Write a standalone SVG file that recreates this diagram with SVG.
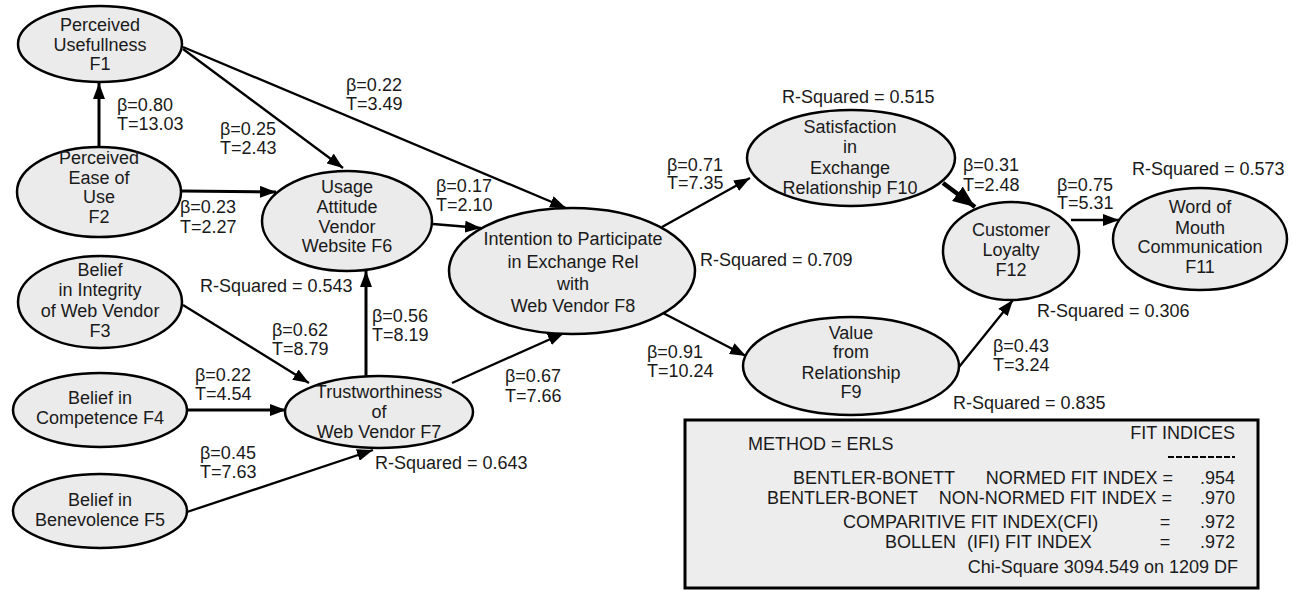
<svg xmlns="http://www.w3.org/2000/svg" width="1293" height="590" viewBox="0 0 1293 590">
<style>
.n ellipse{fill:#ebebeb;stroke:#000;stroke-width:2.5}
text{font-family:"Liberation Sans",Arial,sans-serif;font-size:18px;fill:#1a1a1a}
.n text{text-anchor:middle}
.e line{stroke:#000;stroke-width:2.3;fill:none;marker-end:url(#ah)}
.e line.k{stroke-width:3}
.e line.b{stroke-width:4.5;marker-end:url(#ahb)}
.end{text-anchor:end}
.mid{text-anchor:middle}
</style>
<defs>
<marker id="ah" markerUnits="userSpaceOnUse" markerWidth="16" markerHeight="12" refX="16" refY="6" orient="auto">
<path d="M0,0 L16,6 L0,12 z" fill="#000"/>
</marker>
<marker id="ahb" markerUnits="userSpaceOnUse" markerWidth="22" markerHeight="18" refX="22" refY="9" orient="auto">
<path d="M0,0 L22,9 L0,18 z" fill="#000"/>
</marker>
</defs>
<rect width="1293" height="590" fill="#fff"/>

<g id="connectors" class="e">
<line class="k" x1="99" y1="147" x2="99" y2="83"/>
<line x1="183" y1="49" x2="343" y2="168"/>
<line x1="183" y1="47" x2="566" y2="208"/>
<line class="k" x1="182" y1="191" x2="276" y2="192"/>
<line x1="433" y1="224" x2="481" y2="228"/>
<line x1="183" y1="305" x2="309" y2="383"/>
<line class="k" x1="187" y1="410" x2="286" y2="410"/>
<line x1="187" y1="512" x2="373" y2="450"/>
<line class="k" x1="366" y1="377" x2="366" y2="271"/>
<line x1="452" y1="383" x2="564" y2="333"/>
<line x1="662" y1="227" x2="750" y2="178"/>
<line x1="663" y1="313" x2="746" y2="356"/>
<line class="b" x1="943" y1="183" x2="975" y2="207"/>
<line x1="1071" y1="220" x2="1119" y2="220"/>
<line x1="959" y1="367" x2="1013" y2="300"/>
</g>

<g id="F1" class="n"><ellipse cx="100" cy="44" rx="82" ry="38"/>
<text x="100" y="31">Perceived</text><text x="100" y="51">Usefullness</text><text x="100" y="70">F1</text></g>
<g id="F2" class="n"><ellipse cx="99" cy="192" rx="82" ry="45"/>
<text x="99" y="164">Perceived</text><text x="99" y="184">Ease of</text><text x="99" y="203">Use</text><text x="99" y="223">F2</text></g>
<g id="F3" class="n"><ellipse cx="100" cy="302" rx="82" ry="46"/>
<text x="100" y="276">Belief</text><text x="100" y="296">in Integrity</text><text x="100" y="317">of Web Vendor</text><text x="100" y="337">F3</text></g>
<g id="F4" class="n"><ellipse cx="100" cy="410" rx="87" ry="37"/>
<text x="100" y="404">Belief in</text><text x="100" y="424">Competence F4</text></g>
<g id="F5" class="n"><ellipse cx="100" cy="511" rx="87" ry="37"/>
<text x="100" y="506">Belief in</text><text x="100" y="526">Benevolence F5</text></g>
<g id="F6" class="n"><ellipse cx="347" cy="221" rx="85" ry="50"/>
<text x="347" y="193">Usage</text><text x="347" y="213">Attitude</text><text x="347" y="233">Vendor</text><text x="347" y="252">Website F6</text></g>
<g id="F7" class="n"><ellipse cx="379" cy="412" rx="94" ry="36"/>
<text x="379" y="398">Trustworthiness</text><text x="379" y="418">of</text><text x="379" y="438">Web Vendor F7</text></g>
<g id="F8" class="n"><ellipse cx="572" cy="271" rx="123" ry="63"/>
<text x="573" y="245">Intention to Participate</text><text x="573" y="268">in Exchange Rel</text><text x="573" y="290">with</text><text x="573" y="312">Web Vendor F8</text></g>
<g id="F10" class="n"><ellipse cx="851" cy="158" rx="104" ry="48"/>
<text x="850" y="133">Satisfaction</text><text x="850" y="153">in</text><text x="850" y="174">Exchange</text><text x="850" y="194">Relationship F10</text></g>
<g id="F9" class="n"><ellipse cx="851" cy="366" rx="108" ry="49"/>
<text x="851" y="339">Value</text><text x="851" y="358">from</text><text x="851" y="379">Relationship</text><text x="851" y="398">F9</text></g>
<g id="F12" class="n"><ellipse cx="1011" cy="251" rx="68" ry="49"/>
<text x="1011" y="236">Customer</text><text x="1011" y="256">Loyalty</text><text x="1011" y="276">F12</text></g>
<g id="F11" class="n"><ellipse cx="1200" cy="239" rx="87" ry="51"/>
<text x="1200" y="213">Word of</text><text x="1200" y="234">Mouth</text><text x="1200" y="253">Communication</text><text x="1200" y="273">F11</text></g>

<g id="labels">
<text x="117" y="111">β=0.80</text><text x="117" y="130">T=13.03</text>
<text x="220" y="135">β=0.25</text><text x="220" y="154">T=2.43</text>
<text x="346" y="91">β=0.22</text><text x="346" y="110">T=3.49</text>
<text x="180" y="213">β=0.23</text><text x="180" y="233">T=2.27</text>
<text x="436" y="192">β=0.17</text><text x="436" y="211">T=2.10</text>
<text x="200" y="292">R-Squared = 0.543</text>
<text x="272" y="336">β=0.62</text><text x="272" y="355">T=8.79</text>
<text x="372" y="322">β=0.56</text><text x="372" y="341">T=8.19</text>
<text x="195" y="381">β=0.22</text><text x="195" y="400">T=4.54</text>
<text x="200" y="459">β=0.45</text><text x="200" y="478">T=7.63</text>
<text x="505" y="382">β=0.67</text><text x="505" y="402">T=7.66</text>
<text x="375" y="469">R-Squared = 0.643</text>
<text x="667" y="171">β=0.71</text><text x="667" y="189">T=7.35</text>
<text x="782" y="103">R-Squared = 0.515</text>
<text x="700" y="266">R-Squared = 0.709</text>
<text x="647" y="358">β=0.91</text><text x="647" y="377">T=10.24</text>
<text x="963" y="171">β=0.31</text><text x="963" y="191">T=2.48</text>
<text x="1057" y="191">β=0.75</text><text x="1057" y="209">T=5.31</text>
<text x="1132" y="175">R-Squared = 0.573</text>
<text x="1037" y="317">R-Squared = 0.306</text>
<text x="993" y="352">β=0.43</text><text x="993" y="371">T=3.24</text>
<text x="953" y="409">R-Squared = 0.835</text>
</g>

<g id="fit-box">
<rect x="685" y="420" width="573" height="168" fill="#ededed" stroke="#000" stroke-width="3"/>
<text x="748" y="450">METHOD = ERLS</text>
<text class="end" x="1235" y="439">FIT INDICES</text>
<line x1="1168" y1="457" x2="1235" y2="457" stroke="#000" stroke-width="2" stroke-dasharray="6 2"/>
<text x="793" y="484">BENTLER-BONETT</text><text class="end" x="1173" y="484">NORMED FIT INDEX =</text><text class="end" x="1235" y="484">.954</text>
<text x="767" y="504">BENTLER-BONET</text><text class="end" x="1172" y="504">NON-NORMED FIT INDEX =</text><text class="end" x="1235" y="504">.970</text>
<text x="843" y="528">COMPARITIVE FIT INDEX(CFI)</text><text class="mid" x="1165" y="528">=</text><text class="end" x="1235" y="528">.972</text>
<text x="885" y="548">BOLLEN</text><text x="967" y="548">(IFI) FIT INDEX</text><text class="mid" x="1165" y="548">=</text><text class="end" x="1235" y="548">.972</text>
<text class="end" x="1238" y="573">Chi-Square 3094.549 on 1209 DF</text>
</g>
</svg>
